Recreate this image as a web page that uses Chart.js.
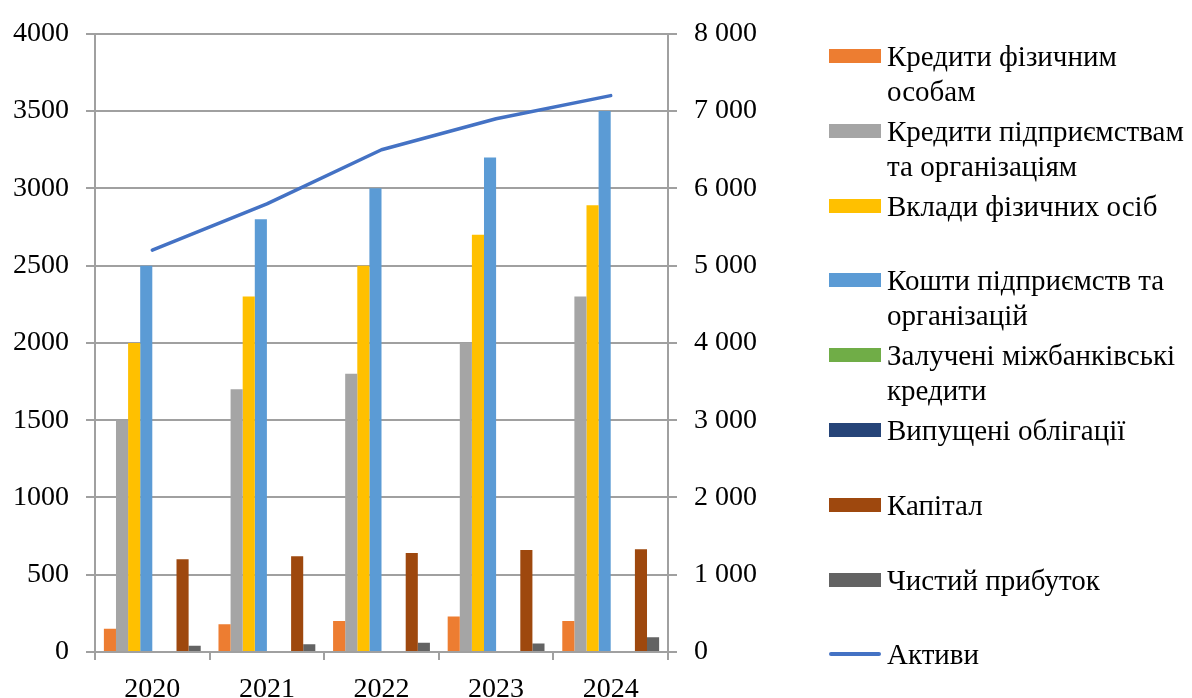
<!DOCTYPE html>
<html>
<head>
<meta charset="utf-8">
<script src="https://cdn.jsdelivr.net/npm/chart.js@4/dist/chart.umd.min.js"></script>
<style>
  html, body { margin: 0; padding: 0; background: #fff; }
  #wrap { position: relative; width: 1192px; height: 698px; overflow: hidden; }
  #c { position: absolute; left: 0; top: 0; }
  #legend { position: absolute; left: 829px; top: 39px; font-family: "Liberation Serif", "Times New Roman", serif; font-size: 29px; color: #000; }
  .item { position: absolute; left: 0; height: 75px; width: 380px; }
  .sw { position: absolute; left: 0; width: 52px; height: 14px; top: 10px; }
  .sw.line { height: 3.5px; top: 15px; border-radius: 2px; }
  .txt { position: absolute; left: 58px; top: 0; line-height: 35px; white-space: pre; }
</style>
</head>
<body>
<div id="wrap">
  <canvas id="c" width="1192" height="698"></canvas>
  <div id="legend"></div>
</div>
<script>
const years = ['2020', '2021', '2022', '2023', '2024'];
const loansIndividuals = [150, 180, 200, 230, 200];
const loansCompanies = [1500, 1700, 1800, 2000, 2300];
const depositsIndividuals = [2000, 2300, 2500, 2700, 2890];
const fundsCompanies = [2500, 2800, 3000, 3200, 3500];
const interbankLoans = [0, 0, 0, 0, 0];
const bondsIssued = [0, 0, 0, 0, 0];
const capital = [600, 620, 640, 660, 665];
const netProfit = [40, 50, 60, 55, 95];
const assets = [5200, 5800, 6500, 6900, 7200];

const seriesNames = [
  'Кредити фізичним\nособам',
  'Кредити підприємствам\nта організаціям',
  'Вклади фізичних осіб',
  'Кошти підприємств та\nорганізацій',
  'Залучені міжбанківські\nкредити',
  'Випущені облігації',
  'Капітал',
  'Чистий прибуток',
  'Активи'
];
const seriesColors = ['#ED7D31', '#A5A5A5', '#FFC000', '#5B9BD5', '#70AD47', '#264478', '#9E480E', '#636363', '#4472C4'];

const barSeries = [loansIndividuals, loansCompanies, depositsIndividuals, fundsCompanies, interbankLoans, bondsIssued, capital, netProfit];

const FONT = '"Liberation Serif", "Times New Roman", serif';
const GRID = '#a0a0a0';

const datasets = barSeries.map((d, i) => ({
  type: 'bar',
  label: seriesNames[i].replace('\n', ' '),
  data: d,
  backgroundColor: seriesColors[i],
  borderWidth: 0,
  yAxisID: 'y',
  order: 1
}));
datasets.push({
  type: 'line',
  label: seriesNames[8],
  data: assets,
  borderColor: seriesColors[8],
  backgroundColor: seriesColors[8],
  borderWidth: 3.5,
  pointRadius: 0,
  tension: 0,
  borderCapStyle: 'round',
  borderJoinStyle: 'round',
  yAxisID: 'y2',
  order: 0
});

const chart = new Chart(document.getElementById('c'), {
  type: 'bar',
  data: { labels: years, datasets },
  options: {
    responsive: false,
    animation: false,
    devicePixelRatio: 1,
    layout: { padding: { left: 0, top: 30, right: 414, bottom: 0 } },
    datasets: { bar: { categoryPercentage: 0.845, barPercentage: 1 } },
    plugins: { legend: { display: false }, tooltip: { enabled: false } },
    scales: {
      x: {
        offset: true,
        grid: { offset: true, drawOnChartArea: false, drawTicks: true, tickLength: 8, color: GRID, lineWidth: 2 },
        border: { display: true, color: GRID, width: 2 },
        ticks: { color: '#000', font: { family: FONT, size: 28 }, padding: 13, maxRotation: 0 },
        afterFit: s => { s.height = 46; }
      },
      y: {
        position: 'left',
        min: 0, max: 4000,
        ticks: { stepSize: 500, color: '#000', font: { family: FONT, size: 28 }, padding: 17, callback: v => String(v) },
        grid: { color: GRID, lineWidth: 2, tickLength: 9, drawTicks: true },
        border: { display: true, color: GRID, width: 2 },
        afterFit: s => { s.width = 95; }
      },
      y2: {
        position: 'right',
        min: 0, max: 8000,
        ticks: {
          stepSize: 1000, color: '#000', font: { family: FONT, size: 28 }, padding: 17,
          callback: v => String(v).replace(/\B(?=(\d{3})+(?!\d))/g, ' ')
        },
        grid: { drawOnChartArea: false, drawTicks: true, tickLength: 9, color: GRID, lineWidth: 2 },
        border: { display: true, color: GRID, width: 2 },
        afterFit: s => { s.width = 110; }
      }
    }
  }
});

// HTML legend built from the chart's datasets
const legend = document.getElementById('legend');
chart.data.datasets.forEach((ds, i) => {
  const item = document.createElement('div');
  item.className = 'item';
  item.style.top = (i * 74.8) + 'px';
  const sw = document.createElement('div');
  sw.className = 'sw' + (ds.type === 'line' ? ' line' : '');
  sw.style.background = ds.type === 'line' ? ds.borderColor : ds.backgroundColor;
  const txt = document.createElement('div');
  txt.className = 'txt';
  txt.textContent = seriesNames[i];
  item.appendChild(sw);
  item.appendChild(txt);
  legend.appendChild(item);
});
</script>
</body>
</html>
